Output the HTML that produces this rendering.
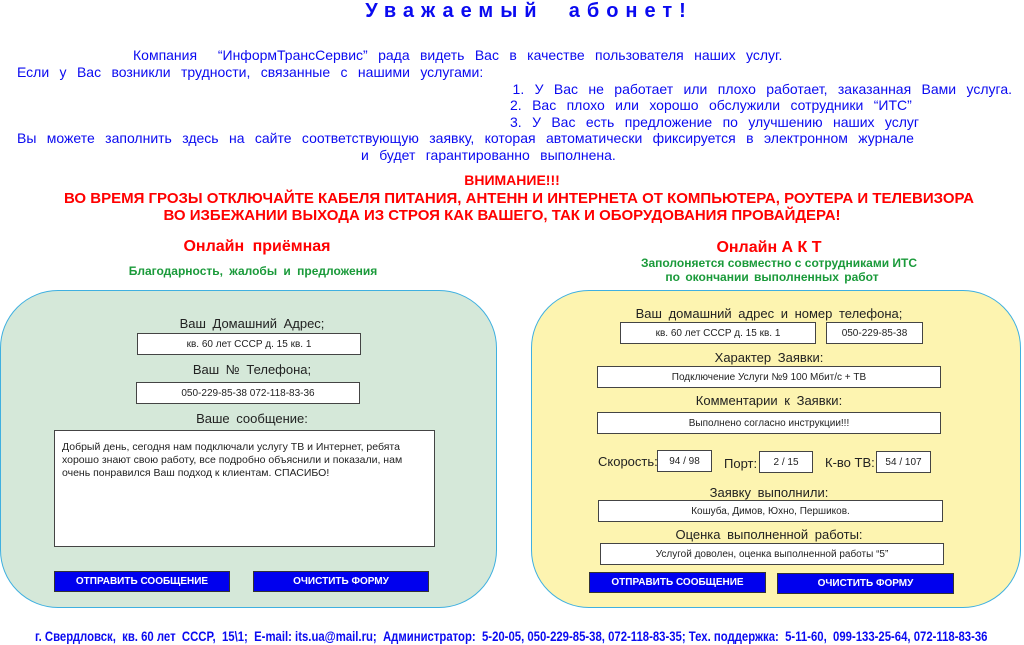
<!DOCTYPE html>
<html><head><meta charset="utf-8"><style>
*{margin:0;padding:0;box-sizing:border-box}
body{width:1024px;height:645px;background:#fff;position:relative;overflow:hidden;font-family:"Liberation Sans",sans-serif}
.a{position:absolute;white-space:nowrap;line-height:1}
.b{color:#0a0af0;font-size:14px;word-spacing:6.5px}
.r{color:#f00;font-weight:bold;font-size:15px}
.g{color:#1a9a3a;font-weight:bold;font-size:12px}
.l{color:#222;font-size:13px;text-align:center;word-spacing:3px}
.in{position:absolute;background:#fff;border:1.5px solid #444;font-size:10px;color:#222;display:flex;align-items:center;justify-content:center;white-space:nowrap}
.bt{position:absolute;background:#0000ee;border:1px solid #333;color:#fff;font-weight:bold;font-size:10px;display:flex;align-items:center;justify-content:center}
.p{position:absolute;border:1.5px solid #3fb0e0;border-radius:58px}
</style></head><body>
<div class="a" style="left:17px;width:1024px;top:1px;text-align:center;color:#0a0af0;font-weight:bold;font-size:20px;letter-spacing:7px">Уважаемый&nbsp; абонет!</div>
<div class="a b" style="left:133px;top:48px">Компания&nbsp; “ИнформТрансСервис” рада видеть Вас в качестве пользователя наших услуг.</div>
<div class="a b" style="left:17px;top:65px">Если у Вас возникли трудности, связанные с нашими услугами:</div>
<div class="a b" style="right:12px;top:82px">1. У Вас не работает или плохо работает, заказанная Вами услуга.</div>
<div class="a b" style="left:510px;top:98px">2. Вас плохо или хорошо обслужили сотрудники “ИТС”</div>
<div class="a b" style="left:510px;top:115px">3. У Вас есть предложение по улучшению наших услуг</div>
<div class="a b" style="left:17px;top:131px">Вы можете заполнить здесь на сайте соответствующую заявку, которая автоматически фиксируется в электронном журнале</div>
<div class="a b" style="left:361px;top:148px">и будет гарантированно выполнена.</div>
<div class="a r" style="left:0;width:1024px;text-align:center;top:173px;font-size:14px">ВНИМАНИЕ!!!</div>
<div class="a r" style="left:0;width:1038px;text-align:center;top:191px">ВО ВРЕМЯ ГРОЗЫ ОТКЛЮЧАЙТЕ КАБЕЛЯ ПИТАНИЯ, АНТЕНН И ИНТЕРНЕТА ОТ КОМПЬЮТЕРА, РОУТЕРА И ТЕЛЕВИЗОРА</div>
<div class="a r" style="left:0;width:1004px;text-align:center;top:208px">ВО ИЗБЕЖАНИИ ВЫХОДА ИЗ СТРОЯ КАК ВАШЕГО, ТАК И ОБОРУДОВАНИЯ ПРОВАЙДЕРА!</div>
<div class="a r" style="left:0;width:514px;text-align:center;top:239px;font-size:16px;word-spacing:4px">Онлайн приёмная</div>
<div class="a g" style="left:0;width:506px;text-align:center;top:265px;word-spacing:3px">Благодарность, жалобы и предложения</div>
<div class="a r" style="left:0;width:1538px;text-align:center;top:240px;font-size:16px">Онлайн А К Т</div>
<div class="a g" style="left:0;width:1558px;text-align:center;top:257px">Заполоняется совместно с сотрудниками ИТС</div>
<div class="a g" style="left:0;width:1544px;text-align:center;top:271px;word-spacing:2px">по окончании выполненных работ</div>

<div class="p" style="left:0;top:290px;width:497px;height:318px;background:#d5e8d9"></div>
<div class="a l" style="left:0;width:504px;top:317px">Ваш Домашний Адрес;</div>
<div class="in" style="left:137px;top:333px;width:224px;height:22px">кв. 60 лет СССР д. 15 кв. 1</div>
<div class="a l" style="left:0;width:504px;top:363px">Ваш № Телефона;</div>
<div class="in" style="left:136px;top:382px;width:224px;height:22px">050-229-85-38 072-118-83-36</div>
<div class="a l" style="left:0;width:504px;top:412px">Ваше сообщение:</div>
<div class="in" style="left:54px;top:430px;width:381px;height:117px;display:block;text-align:left;padding:10px 7px;font-size:10.5px;line-height:13px;white-space:normal">Добрый день, сегодня нам подключали услугу ТВ и Интернет, ребята хорошо знают свою работу, все подробно объяснили и показали, нам очень понравился Ваш подход к клиентам. СПАСИБО!</div>
<div class="bt" style="left:54px;top:571px;width:176px;height:21px">ОТПРАВИТЬ СООБЩЕНИЕ</div>
<div class="bt" style="left:253px;top:571px;width:176px;height:21px">ОЧИСТИТЬ ФОРМУ</div>

<div class="p" style="left:531px;top:290px;width:490px;height:318px;background:#fdf4b0"></div>
<div class="a l" style="left:531px;width:476px;top:307px">Ваш домашний адрес и номер телефона;</div>
<div class="in" style="left:620px;top:322px;width:196px;height:22px">кв. 60 лет СССР д. 15 кв. 1</div>
<div class="in" style="left:826px;top:322px;width:97px;height:22px">050-229-85-38</div>
<div class="a l" style="left:531px;width:476px;top:351px">Характер Заявки:</div>
<div class="in" style="left:597px;top:366px;width:344px;height:22px">Подключение Услуги №9 100 Мбит/с + ТВ</div>
<div class="a l" style="left:531px;width:476px;top:394px">Комментарии к Заявки:</div>
<div class="in" style="left:597px;top:412px;width:344px;height:22px">Выполнено согласно инструкции!!!</div>
<div class="a l" style="left:598px;top:455px">Скорость:</div>
<div class="in" style="left:657px;top:450px;width:55px;height:22px">94 / 98</div>
<div class="a l" style="left:724px;top:457px">Порт:</div>
<div class="in" style="left:759px;top:451px;width:54px;height:22px">2 / 15</div>
<div class="a l" style="left:825px;top:456px;word-spacing:0">К-во ТВ:</div>
<div class="in" style="left:876px;top:451px;width:55px;height:22px">54 / 107</div>
<div class="a l" style="left:531px;width:476px;top:486px">Заявку выполнили:</div>
<div class="in" style="left:598px;top:500px;width:345px;height:22px">Кошуба, Димов, Юхно, Першиков.</div>
<div class="a l" style="left:531px;width:476px;top:528px">Оценка выполненной работы:</div>
<div class="in" style="left:600px;top:543px;width:344px;height:22px">Услугой доволен, оценка выполненной работы “5”</div>
<div class="bt" style="left:589px;top:572px;width:177px;height:21px">ОТПРАВИТЬ СООБЩЕНИЕ</div>
<div class="bt" style="left:777px;top:573px;width:177px;height:21px">ОЧИСТИТЬ ФОРМУ</div>

<div class="a" style="left:35px;top:629px;color:#0a0af0;font-weight:bold;font-size:14px;transform:scaleX(0.81);transform-origin:0 0">г. Свердловск,&nbsp; кв. 60 лет&nbsp; СССР,&nbsp; 15\1;&nbsp; E-mail: its.ua@mail.ru;&nbsp; Администратор:&nbsp; 5-20-05, 050-229-85-38, 072-118-83-35; Тех. поддержка:&nbsp; 5-11-60,&nbsp; 099-133-25-64, 072-118-83-36</div>
</body></html>
